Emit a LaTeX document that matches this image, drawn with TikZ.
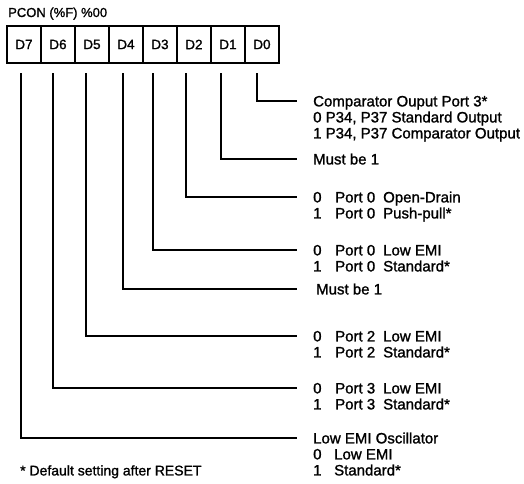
\documentclass[tikz,border=0pt]{standalone}
\usepackage{fontspec}
\setmainfont{Liberation Sans}[BoldFont={Liberation Sans},BoldFeatures={FakeBold=1.3}]
\begin{document}
\begin{tikzpicture}[x=1pt,y=-1pt,
  cell/.style={draw,line width=1.9pt,minimum width=34pt,minimum height=37pt,inner sep=0pt,
    font=\fontsize{13.5}{15}\selectfont\bfseries,anchor=north west},
  wire/.style={line width=1.9pt},
  lbl/.style={anchor=base west,inner sep=0pt,font=\fontsize{15}{16}\selectfont\bfseries},
  small/.style={anchor=base west,inner sep=0pt,font=\fontsize{14}{15}\selectfont\bfseries},
]
\useasboundingbox (0,0) rectangle (524,483);
\newcommand{\dg}[1]{\makebox[22pt][l]{#1}}
\newcommand{\pt}[1]{\makebox[48pt][l]{#1}}

\node[small,font=\fontsize{13}{15}\selectfont\bfseries] (title) at (8,17) {PCON (\%F) \%00};

\node[cell] (d7) at (6,25) {D7};
\node[cell] (d6) at (40,25) {D6};
\node[cell] (d5) at (74,25) {D5};
\node[cell] (d4) at (108,25) {D4};
\node[cell] (d3) at (142,25) {D3};
\node[cell] (d2) at (176,25) {D2};
\node[cell] (d1) at (210,25) {D1};
\node[cell] (d0) at (244,25) {D0};

% wire start points
\coordinate (v7) at (21,73);
\coordinate (v6) at (53,73);
\coordinate (v5) at (86,73);
\coordinate (v4) at (123,73);
\coordinate (v3) at (153,73);
\coordinate (v2) at (186,73);
\coordinate (v1) at (221,73);
\coordinate (v0) at (257,73);

% wire end points
\coordinate (e0) at (297,101);
\coordinate (e1) at (297,159);
\coordinate (e2) at (297,197);
\coordinate (e3) at (297,250);
\coordinate (e4) at (297,289);
\coordinate (e5) at (297,336);
\coordinate (e6) at (297,388);
\coordinate (e7) at (297,438);

\draw[wire] (v0) |- (e0);
\draw[wire] (v1) |- (e1);
\draw[wire] (v2) |- (e2);
\draw[wire] (v3) |- (e3);
\draw[wire] (v4) |- (e4);
\draw[wire] (v5) |- (e5);
\draw[wire] (v6) |- (e6);
\draw[wire] (v7) |- (e7);

% texts
\node[lbl] (t0a) at (313,106.4) {Comparator Ouput Port 3*};
\node[lbl] (t0b) at (313,122.4) {0 P34, P37 Standard Output};
\node[lbl] (t0c) at (313,138.4) {1 P34, P37 Comparator Output};

\node[lbl] (t1a) at (313,164.4) {Must be 1};

\node[lbl] (t2a) at (313,202.4) {\dg{0}\pt{Port 0}Open-Drain};
\node[lbl] (t2b) at (313,218.4) {\dg{1}\pt{Port 0}Push-pull*};

\node[lbl] (t3a) at (313,255.4) {\dg{0}\pt{Port 0}Low EMI};
\node[lbl] (t3b) at (313,271.4) {\dg{1}\pt{Port 0}Standard*};

\node[lbl] (t4a) at (316,294.4) {Must be 1};

\node[lbl] (t5a) at (313,341.4) {\dg{0}\pt{Port 2}Low EMI};
\node[lbl] (t5b) at (313,357.4) {\dg{1}\pt{Port 2}Standard*};

\node[lbl] (t6a) at (313,393.4) {\dg{0}\pt{Port 3}Low EMI};
\node[lbl] (t6b) at (313,409.4) {\dg{1}\pt{Port 3}Standard*};

\node[lbl] (t7a) at (313,443.4) {Low EMI Oscillator};
\node[lbl] (t7b) at (313,459.4) {\makebox[21pt][l]{0}Low EMI};
\node[lbl] (t7c) at (313,475.4) {\makebox[21pt][l]{1}Standard*};

\node[small] (note) at (20,475.4) {* Default setting after RESET};
\end{tikzpicture}
\end{document}
